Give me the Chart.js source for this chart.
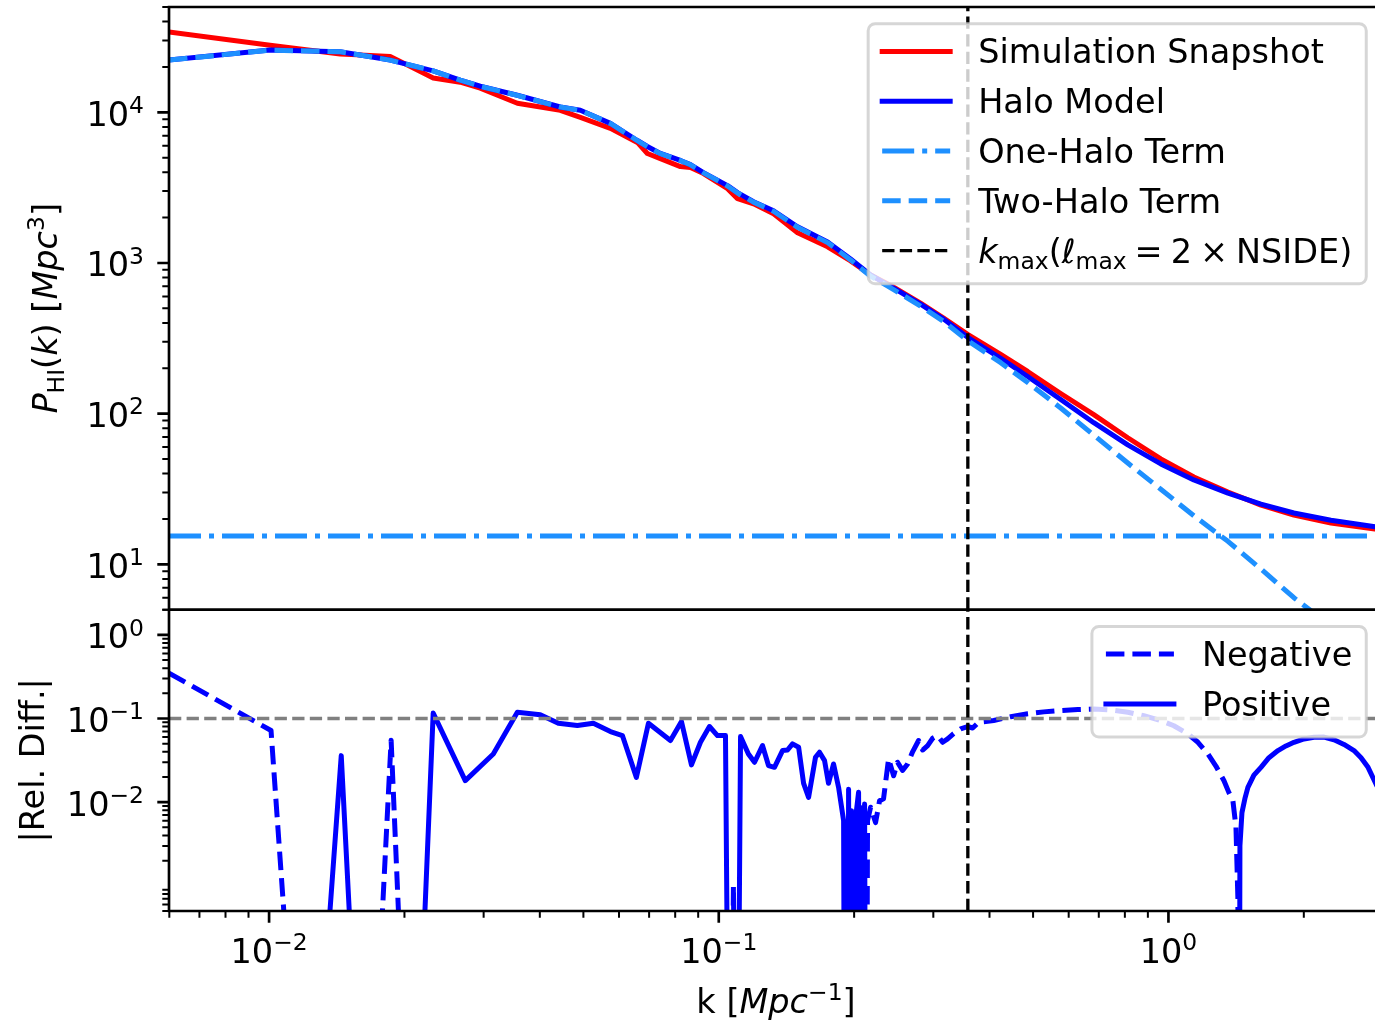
<!DOCTYPE html>
<html>
<head>
<meta charset="utf-8">
<title>HI power spectrum - snapshot vs halo model</title>
<script src="https://cdn.jsdelivr.net/npm/chart.js@4.4.1/dist/chart.umd.min.js"></script>
<style>
    html, body { margin: 0; padding: 0; background: #fff; overflow: hidden; }
    #wrap { width: 1384px; height: 1025px; }
</style>
</head>
<body>
<div id="wrap"><canvas id="pkChart" width="1384" height="1025"></canvas></div>
<script>
// ---- values ----
const kTop = [0.00599, 0.01005, 0.01439, 0.01859, 0.02317, 0.02661, 0.02948, 0.03565, 0.04442, 0.04923,
    0.05741, 0.06592, 0.06938, 0.07416, 0.08218, 0.0865, 0.09247, 0.1046, 0.1101, 0.1195,
    0.1324, 0.1497, 0.1746, 0.1964, 0.2176, 0.2448, 0.2810, 0.3163, 0.3577, 0.4236,
    0.4864, 0.576, 0.6823, 0.812, 0.9616, 1.139, 1.356, 1.606, 1.901, 2.298,
    2.894];
const pSnapshot = [34100, 27900, 24350, 23510, 16900, 15850, 14450, 11480, 10310, 9260,
    7820, 6310, 5330, 4930, 4365, 4300, 3920, 3110, 2670, 2470,
    2120, 1585, 1280, 1031, 832, 692, 541, 430, 336, 247,
    190.5, 136, 98.5, 69.2, 50.1, 38.0, 30.2, 24.7, 21.2, 18.8,
    17.1];
const pHaloModel = [22220, 25900, 25240, 22220, 18850, 16350, 14900, 12980, 10850, 10310,
    8450, 6500, 5930, 5330, 4790, 4500, 3980, 3260, 2930, 2550,
    2220, 1740, 1380, 1063, 832, 681, 533, 424, 321, 233,
    176.5, 124, 87.1, 62.1, 46.4, 36.3, 29.7, 25.1, 21.9, 19.6,
    17.7];
const pTwoHalo = [22205, 25885, 25225, 22205, 18835, 16335, 14885, 12965, 10835, 10295,
    8435, 6485, 5915, 5315, 4775, 4485, 3965, 3245, 2915, 2535,
    2205, 1725, 1365, 1048, 817, 666, 518, 409, 305, 218,
    161, 109, 72, 47, 31.5, 21, 14.2, 9.3, 6.0, 3.9,
    2.3];
const oneHaloLevel = 15.4;

const kRel = [0.00599, 0.0101, 0.01447, 0.01868, 0.02317, 0.02731, 0.03152, 0.03565, 0.0401, 0.04398,
    0.04848, 0.05261, 0.05742, 0.06105, 0.06558, 0.06976, 0.07808, 0.08261, 0.08695, 0.09105,
    0.09535, 0.09934, 0.1035, 0.1078, 0.1118, 0.1164, 0.1201, 0.1251, 0.129, 0.133,
    0.1386, 0.1422, 0.1459, 0.1505, 0.1544, 0.1584, 0.1641, 0.1675, 0.1719, 0.1754,
    0.18, 0.1847, 0.1895, 0.1924, 0.1944, 0.1974, 0.2004, 0.2046, 0.2078, 0.211,
    0.2142, 0.2176, 0.2232, 0.2278, 0.2325, 0.2386, 0.2448, 0.2498, 0.2563, 0.263,
    0.2698, 0.2782, 0.284, 0.2914, 0.299, 0.3067, 0.3147, 0.3228, 0.3329, 0.345,
    0.3576, 0.3669, 0.3785, 0.3923, 0.4087, 0.4459, 0.4866, 0.528, 0.5762, 0.6288,
    0.6823, 0.7446, 0.8121, 0.8816, 0.9618, 1.028, 1.105, 1.163, 1.224, 1.275,
    1.329, 1.363, 1.391, 1.413, 1.427, 1.442, 1.457, 1.479, 1.502, 1.549,
    1.606, 1.673, 1.752, 1.825, 1.902, 2.002, 2.107, 2.218, 2.334, 2.457,
    2.586, 2.681, 2.779, 2.894];
// signed relative difference (model - snapshot) / snapshot
const relDiff = [-0.349, -0.0718, 0.036, -0.055, 0.116, 0.0181, 0.0377, 0.119, 0.111, 0.0879,
    0.0824, 0.0879, 0.0698, 0.0625, 0.0198, 0.0879, 0.0546, 0.092, 0.0279, 0.052,
    0.0802, 0.0625, 0.0625, -0.001, 0.0608, 0.0377, 0.030, 0.0475, 0.0274, 0.0261,
    0.0414, 0.042, 0.0498, 0.0454, 0.0168, 0.0114, 0.0344, 0.0395, 0.0314, 0.0168,
    0.0286, 0.015, 0.006, -0.004, 0.0143, -0.0079, 0.005, 0.0131, -0.0086, 0.0095,
    -0.006, -0.0087, -0.0057, -0.0104, -0.011, -0.033, -0.0207, -0.030, -0.024, -0.0286,
    -0.040, -0.0546, -0.042, -0.0475, -0.058, -0.0625, -0.052, -0.0571, -0.066, -0.0753,
    -0.0802, -0.077, -0.0903, -0.092, -0.0946, -0.105, -0.114, -0.120, -0.1247, -0.128,
    -0.130, -0.127, -0.119, -0.108, -0.0946, -0.082, -0.0655, -0.052, -0.0377, -0.027,
    -0.018, -0.013, -0.0104, -0.005, -0.0007, 0.003, 0.0075, 0.011, 0.015, 0.021,
    0.0261, 0.034, 0.0414, 0.047, 0.052, 0.057, 0.0597, 0.060, 0.0556, 0.049,
    0.0414, 0.034, 0.0261, 0.0165];
const zeroFloor = 1e-13;   // where a sign branch is empty the original plots ~0

const kMax = 0.358;
const relThreshold = 0.1;
const xRange = [0.00599, 3.0];
const yPowerRange = [5, 5e4];
const yRelRange = [5e-4, 2];
const xMajorTicks = [0.01, 0.1, 1];
const yPowerTicks = [10, 100, 1000, 10000];
const yRelTicks = [0.01, 0.1, 1];

// ---- styling ----
const RED = '#ff0000', BLUE = '#0000ff', DODGER = '#1e90ff', GRAY = '#808080';
const FONT = '"DejaVu Sans", "Liberation Sans", sans-serif';
const FS = 33.5;

const relNegative = relDiff.map(v => (v < 0 ? -v : zeroFloor));
const relPositive = relDiff.map(v => (v > 0 ? v : zeroFloor));

function xy(ks, vs) {
    return ks.map((k, i) => ({ x: k, y: vs[i] }));
}

// rich text: segments {t, i: italic, s: scale, dy: shift in em (up +)}
function segFont(seg) {
    return (seg.i ? 'italic ' : '') + (FS * (seg.s || 1)).toFixed(2) + 'px ' + FONT;
}
function richWidth(ctx, segs) {
    let w = 0;
    segs.forEach(seg => { ctx.font = segFont(seg); w += ctx.measureText(seg.t).width; });
    return w;
}
function drawRich(ctx, segs, x, y, align, angle) {
    const w = richWidth(ctx, segs);
    ctx.save();
    ctx.translate(x, y);
    if (angle) ctx.rotate(angle);
    ctx.textAlign = 'left';
    ctx.textBaseline = 'alphabetic';
    ctx.fillStyle = '#000';
    let cx = align === 'center' ? -w / 2 : (align === 'right' ? -w : 0);
    segs.forEach(seg => {
        ctx.font = segFont(seg);
        ctx.fillText(seg.t, cx, -(seg.dy || 0) * FS);
        cx += ctx.measureText(seg.t).width;
    });
    ctx.restore();
}
function powLabel(v) {
    const e = Math.round(Math.log10(v));
    return [{ t: '10' }, { t: (e < 0 ? '\u2212' : '') + Math.abs(e), s: 0.7, dy: 0.38 }];
}

const yPowerTitle = [{ t: 'P', i: 1 }, { t: 'HI', s: 0.7, dy: -0.2 }, { t: '(' }, { t: 'k', i: 1 },
    { t: ') [' }, { t: 'Mpc', i: 1 }, { t: '3', s: 0.7, dy: 0.38 }, { t: ']' }];
const yRelTitle = [{ t: '|Rel. Diff.|' }];
const xTitle = [{ t: 'k [' }, { t: 'Mpc', i: 1 }, { t: '\u22121', s: 0.7, dy: 0.38 }, { t: ']' }];
const kmaxLabel = [{ t: 'k', i: 1 }, { t: 'max', s: 0.7, dy: -0.2 }, { t: '(' }, { t: '\u2113', i: 1 },
    { t: 'max', s: 0.7, dy: -0.2 }, { t: ' ', s: 0.75 }, { t: '=' }, { t: ' ', s: 0.75 }, { t: '2' },
    { t: ' ', s: 0.75 }, { t: '\u00d7' }, { t: ' ', s: 0.75 }, { t: 'NSIDE)' }];

// clip every dataset to its own panel (stacked y scales share one chart area)
const panelClip = {
    id: 'panelClip',
    beforeDatasetDraw(chart, args) {
        const ys = args.meta.yScale;
        const ca = chart.chartArea;
        chart.ctx.save();
        chart.ctx.beginPath();
        chart.ctx.rect(ca.left, ys.top, ca.right - ca.left, ys.bottom - ys.top);
        chart.ctx.clip();
    },
    afterDatasetDraw(chart) {
        chart.ctx.restore();
    }
};

function drawLegend(ctx, datasets, right, top) {
    const pad = 14, handle = 68, gap = 28, row = 49.8;
    const textW = Math.max(...datasets.map(d => richWidth(ctx, d.richLabel || [{ t: d.label }])));
    const w = pad + handle + gap + textW + pad;
    const h = datasets.length * row + 11;
    const left = right - w;

    ctx.save();
    ctx.beginPath();
    ctx.roundRect(left, top, w, h, 7);
    ctx.fillStyle = 'rgba(255,255,255,0.8)';
    ctx.fill();
    ctx.setLineDash([]);
    ctx.lineWidth = 3;
    ctx.strokeStyle = 'rgba(204,204,204,0.8)';
    ctx.stroke();

    datasets.forEach((d, i) => {
        const cy = top + 27.7 + i * row;
        const dash = d.borderDash || [];
        ctx.beginPath();
        ctx.setLineDash(dash);
        ctx.lineCap = dash.length ? 'butt' : 'square';
        ctx.strokeStyle = d.borderColor;
        ctx.lineWidth = d.borderWidth;
        ctx.moveTo(left + pad, cy);
        ctx.lineTo(left + pad + handle, cy);
        ctx.stroke();
        drawRich(ctx, d.richLabel || [{ t: d.label }], left + pad + handle + gap, cy + 12, 'left');
    });
    ctx.restore();
}

// spines, ticks, labels and the two legends
const axesDecor = {
    id: 'axesDecor',
    afterDatasetsDraw(chart) {
        const ctx = chart.ctx;
        const xs = chart.scales.x, yp = chart.scales.yPower, yr = chart.scales.yRel;
        const L = chart.chartArea.left, R = chart.chartArea.right;

        ctx.save();
        ctx.setLineDash([]);
        ctx.strokeStyle = '#000';

        // 1. spines
        ctx.lineWidth = 2.67;
        ctx.lineCap = 'square';
        ctx.beginPath();
        [yp.top, yp.bottom, yr.bottom].forEach(y => { ctx.moveTo(L, y); ctx.lineTo(R, y); });
        ctx.moveTo(L, yp.top); ctx.lineTo(L, yr.bottom);
        ctx.moveTo(R, yp.top); ctx.lineTo(R, yr.bottom);
        ctx.stroke();

        // 2. y ticks (log minor + chosen majors)
        ctx.lineCap = 'butt';
        [[yp, yPowerTicks], [yr, yRelTicks]].forEach(([sc, majors]) => {
            const lo = Math.floor(Math.log10(sc.min)), hi = Math.ceil(Math.log10(sc.max));
            ctx.lineWidth = 2;
            ctx.beginPath();
            for (let e = lo; e <= hi; e++) {
                for (let m = 2; m <= 9; m++) {
                    const v = m * Math.pow(10, e);
                    if (v < sc.min * 0.999 || v > sc.max * 1.001) continue;
                    const py = sc.getPixelForValue(v);
                    ctx.moveTo(L - 6.7, py); ctx.lineTo(L, py);
                }
            }
            ctx.stroke();
            ctx.lineWidth = 2.67;
            ctx.beginPath();
            majors.forEach(v => {
                const py = sc.getPixelForValue(v);
                ctx.moveTo(L - 11.7, py); ctx.lineTo(L, py);
            });
            ctx.stroke();
            majors.forEach(v => drawRich(ctx, powLabel(v), L - 25, sc.getPixelForValue(v) + 13.5, 'right'));
        });

        // 3. x ticks on the lower panel
        const bottom = yr.bottom;
        const lo = Math.floor(Math.log10(xs.min)), hi = Math.ceil(Math.log10(xs.max));
        ctx.lineWidth = 2;
        ctx.beginPath();
        for (let e = lo; e <= hi; e++) {
            for (let m = 2; m <= 9; m++) {
                const v = m * Math.pow(10, e);
                if (v < xs.min || v > xs.max) continue;
                const px = xs.getPixelForValue(v);
                ctx.moveTo(px, bottom); ctx.lineTo(px, bottom + 6.7);
            }
        }
        ctx.stroke();
        ctx.lineWidth = 2.67;
        ctx.beginPath();
        xMajorTicks.forEach(v => {
            const px = xs.getPixelForValue(v);
            ctx.moveTo(px, bottom); ctx.lineTo(px, bottom + 11.7);
        });
        ctx.stroke();
        xMajorTicks.forEach(v => drawRich(ctx, powLabel(v), xs.getPixelForValue(v), bottom + 52, 'center'));

        // 4. axis titles
        drawRich(ctx, xTitle, (L + R) / 2, bottom + 102, 'center');
        drawRich(ctx, yPowerTitle, L - 112, (yp.top + yp.bottom) / 2, 'center', -Math.PI / 2);
        drawRich(ctx, yRelTitle, L - 125, (yr.top + yr.bottom) / 2, 'center', -Math.PI / 2);
        ctx.restore();

        // 5. legends (upper right of each panel)
        const ds = chart.data.datasets;
        drawLegend(ctx, ds.filter(d => d.legendPanel === 'top'), R - 16.75, yp.top + 16.75);
        drawLegend(ctx, ds.filter(d => d.legendPanel === 'bottom'), R - 16.75, yr.top + 16.75);
    }
};

const solid = { borderWidth: 5, borderCapStyle: 'square', borderJoinStyle: 'round' };
const dashed = { borderWidth: 5, borderCapStyle: 'butt', borderJoinStyle: 'round', borderDash: [18.5, 8] };
const thinDash = { borderWidth: 3.33, borderCapStyle: 'butt', borderDash: [12.3, 5.3] };

new Chart(document.getElementById('pkChart'), {
    type: 'line',
    data: {
        datasets: [
            { label: 'Simulation Snapshot', data: xy(kTop, pSnapshot), yAxisID: 'yPower', borderColor: RED, ...solid, order: 9, legendPanel: 'top' },
            { label: 'Halo Model', data: xy(kTop, pHaloModel), yAxisID: 'yPower', borderColor: BLUE, ...solid, order: 8, legendPanel: 'top' },
            { label: 'One-Halo Term', data: xy(kTop, kTop.map(() => oneHaloLevel)), yAxisID: 'yPower', borderColor: DODGER,
              borderWidth: 5, borderCapStyle: 'butt', borderDash: [32, 8, 5, 8], order: 7, legendPanel: 'top' },
            { label: 'Two-Halo Term', data: xy(kTop, pTwoHalo), yAxisID: 'yPower', borderColor: DODGER, ...dashed, order: 6, legendPanel: 'top' },
            { label: 'k_max', richLabel: kmaxLabel, data: xy([kMax, kMax], yPowerRange), yAxisID: 'yPower', borderColor: '#000', ...thinDash, order: 5, legendPanel: 'top' },
            { label: 'Negative', data: xy(kRel, relNegative), yAxisID: 'yRel', borderColor: BLUE, ...dashed, order: 4, legendPanel: 'bottom' },
            { label: 'Positive', data: xy(kRel, relPositive), yAxisID: 'yRel', borderColor: BLUE, ...solid, order: 3, legendPanel: 'bottom' },
            { label: 'threshold', data: xy(xRange, [relThreshold, relThreshold]), yAxisID: 'yRel', borderColor: GRAY, ...thinDash, order: 2 },
            { label: 'k_max bottom', data: xy([kMax, kMax], yRelRange), yAxisID: 'yRel', borderColor: '#000', ...thinDash, order: 1 }
        ]
    },
    options: {
        responsive: false,
        animation: false,
        devicePixelRatio: 1,
        events: [],
        layout: { padding: { left: 169, right: 1, top: 7, bottom: 114 } },
        elements: { point: { radius: 0 }, line: { tension: 0, fill: false } },
        plugins: { legend: { display: false }, tooltip: { enabled: false } },
        scales: {
            x: { type: 'logarithmic', min: xRange[0], max: xRange[1], bounds: 'data', display: false },
            yRel: { type: 'logarithmic', min: yRelRange[0], max: yRelRange[1], bounds: 'data', display: false,
                    position: 'left', stack: 'panels', stackWeight: 1 },
            yPower: { type: 'logarithmic', min: yPowerRange[0], max: yPowerRange[1], bounds: 'data', display: false,
                      position: 'left', stack: 'panels', stackWeight: 2 }
        }
    },
    plugins: [panelClip, axesDecor]
});
</script>
</body>
</html>
